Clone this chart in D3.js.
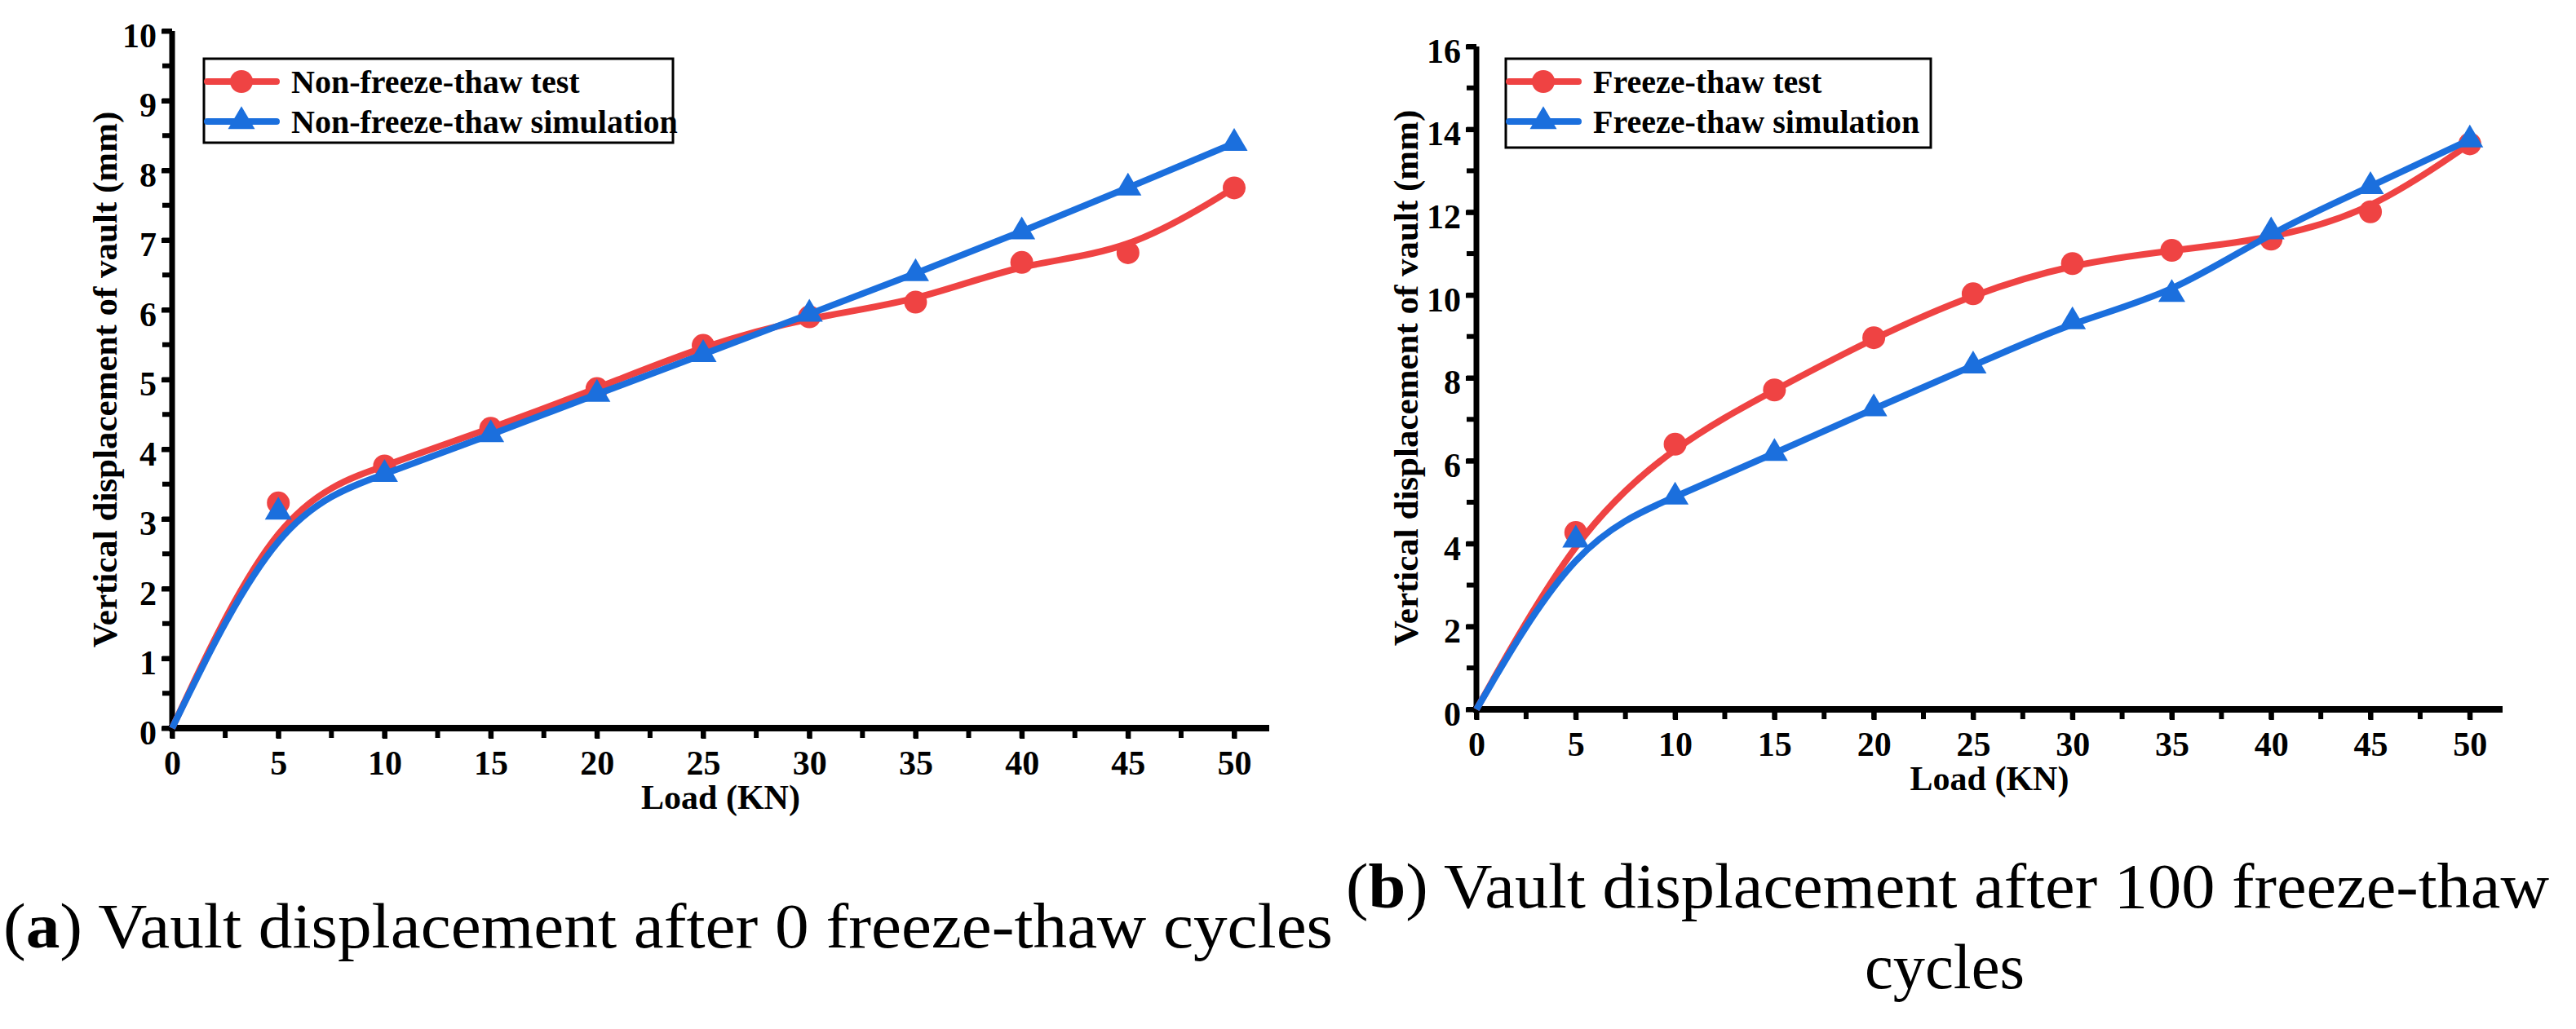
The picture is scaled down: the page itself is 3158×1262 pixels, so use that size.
<!DOCTYPE html>
<html>
<head>
<meta charset="utf-8">
<script src="https://cdn.jsdelivr.net/npm/d3@7"></script>
<style>
  body { margin: 0; background: #fff; }
  svg { display: block; }
  text { font-family: "Liberation Serif", "Times New Roman", serif; }
</style>
</head>
<body>
<div id="chart"></div>
<script>
// load steps (KN)
var loads = [0, 5, 10, 15, 20, 25, 30, 35, 40, 45, 50];

// (a) 0 freeze-thaw cycles
var testA = [0, 3.23, 3.76, 4.30, 4.87, 5.49, 5.90, 6.11, 6.68, 6.82, 7.75];
var simA = [0, 3.10, 3.64, 4.21, 4.79, 5.36, 5.94, 6.52, 7.12, 7.75, 8.39];

// (b) 100 freeze-thaw cycles
var testB = [0, 4.27, 6.40, 7.71, 8.97, 10.03, 10.76, 11.08, 11.35, 12.01, 13.65];
var simB = [0, 4.09, 5.13, 6.18, 7.26, 8.29, 9.36, 10.02, 11.53, 12.62, 13.75];

var xTicks = [0, 5, 10, 15, 20, 25, 30, 35, 40, 45, 50];
var yTicksA = [0, 1, 2, 3, 4, 5, 6, 7, 8, 9, 10];
var yTicksB = [0, 2, 4, 6, 8, 10, 12, 14, 16];

var legendA = ["Non-freeze-thaw test", "Non-freeze-thaw simulation"];
var legendB = ["Freeze-thaw test", "Freeze-thaw simulation"];

var red = "#ef4343",
    blue = "#1b6fdd";

var width = 3158,
    height = 1262;

var svg = d3.select("#chart")
    .append("svg")
    .attr("width", width)
    .attr("height", height);

function zip(ys) {
    return loads.map(function (l, i) { return { x: l, y: ys[i] }; });
}

function panel(opt) {
    var x = d3.scaleLinear().domain([0, 51.65]).range([opt.left, opt.right]);
    var y = d3.scaleLinear().domain([0, opt.yMax]).range([opt.bottom, opt.top]);
    var g = svg.append("g");

    // minor ticks
    var xMinor = d3.range(0, 51.65, 2.5);
    var yMinor = d3.range(0, opt.yMax + 0.001, opt.yStep / 2);

    g.selectAll(".xminor").data(xMinor).enter().append("line")
        .attr("x1", function (d) { return x(d); })
        .attr("x2", function (d) { return x(d); })
        .attr("y1", opt.bottom)
        .attr("y2", opt.bottom + 12)
        .attr("stroke", "#000").attr("stroke-width", 6);

    g.selectAll(".yminor").data(yMinor).enter().append("line")
        .attr("x1", opt.left)
        .attr("x2", opt.left - 12)
        .attr("y1", function (d) { return y(d); })
        .attr("y2", function (d) { return y(d); })
        .attr("stroke", "#000").attr("stroke-width", 6);

    // x axis
    var xAxis = d3.axisBottom(x).tickValues(xTicks).tickSize(13).tickPadding(14);
    var xg = g.append("g")
        .attr("transform", "translate(0," + opt.bottom + ")")
        .call(xAxis);
    xg.select(".domain").remove();
    xg.selectAll(".tick line").attr("stroke-width", 6);
    xg.selectAll(".tick text")
        .attr("font-size", 42).attr("font-weight", "bold")
        .attr("font-family", "Liberation Serif, Times New Roman, serif")
        .attr("fill", "#000");

    // y axis
    var yAxis = d3.axisLeft(y).tickValues(opt.yTicks).tickSize(13).tickPadding(6);
    var yg = g.append("g")
        .attr("transform", "translate(" + opt.left + ",0)")
        .call(yAxis);
    yg.select(".domain").remove();
    yg.selectAll(".tick line").attr("stroke-width", 6);
    yg.selectAll(".tick text")
        .attr("font-size", 42).attr("font-weight", "bold")
        .attr("font-family", "Liberation Serif, Times New Roman, serif")
        .attr("dy", "0.46em")
        .attr("fill", "#000");

    // axis lines
    g.append("line")
        .attr("x1", x(0) - 4).attr("x2", x(51.65))
        .attr("y1", opt.bottom).attr("y2", opt.bottom)
        .attr("stroke", "#000").attr("stroke-width", 8);
    g.append("line")
        .attr("x1", opt.left).attr("x2", opt.left)
        .attr("y1", opt.bottom + 4).attr("y2", y(opt.yMax))
        .attr("stroke", "#000").attr("stroke-width", 7);

    // titles
    g.append("text")
        .attr("x", (x(0) + x(51.65)) / 2)
        .attr("y", opt.bottom + 99)
        .attr("text-anchor", "middle")
        .attr("font-size", 42).attr("font-weight", "bold")
        .text("Load (KN)");

    g.append("text")
        .attr("transform", "translate(" + opt.yTitleX + "," + (opt.top + opt.bottom) / 2 + ") rotate(-90)")
        .attr("text-anchor", "middle")
        .attr("font-size", 43).attr("font-weight", "bold")
        .text("Vertical displacement of vault (mm)");

    var line = d3.line()
        .x(function (d) { return x(d.x); })
        .y(function (d) { return y(d.y); })
        .curve(d3.curveBasis);

    var tri = "M0,-18.7L16.5,9.3L-16.5,9.3Z";

    // test series (red, circles)
    var t = zip(opt.test);
    g.append("path").datum(t)
        .attr("d", line)
        .attr("fill", "none").attr("stroke", red)
        .attr("stroke-width", 8).attr("stroke-linejoin", "round");
    g.selectAll(".dot").data(t.slice(1)).enter().append("circle")
        .attr("cx", function (d) { return x(d.x); })
        .attr("cy", function (d) { return y(d.y); })
        .attr("r", 14)
        .attr("fill", red);

    // simulation series (blue, triangles)
    var s = zip(opt.sim);
    g.append("path").datum(s)
        .attr("d", line)
        .attr("fill", "none").attr("stroke", blue)
        .attr("stroke-width", 8).attr("stroke-linejoin", "round");
    g.selectAll(".tri").data(s.slice(1)).enter().append("path")
        .attr("d", tri)
        .attr("transform", function (d) { return "translate(" + x(d.x) + "," + y(d.y) + ")"; })
        .attr("fill", blue);

    // legend
    var lg = g.append("g");
    lg.append("rect")
        .attr("x", opt.legX).attr("y", 72)
        .attr("width", opt.legW).attr("height", opt.legH)
        .attr("fill", "#fff").attr("stroke", "#000").attr("stroke-width", 3);

    var rows = [
        { label: opt.legend[0], color: red, shape: "circle", cy: 100 },
        { label: opt.legend[1], color: blue, shape: "tri", cy: 149 }
    ];
    var item = lg.selectAll(".item").data(rows).enter().append("g")
        .attr("transform", function (d) { return "translate(" + opt.legX + "," + d.cy + ")"; });
    item.append("line")
        .attr("x1", 4).attr("x2", 89)
        .attr("stroke", function (d) { return d.color; })
        .attr("stroke-width", 8).attr("stroke-linecap", "round");
    item.filter(function (d) { return d.shape === "circle"; }).append("circle")
        .attr("cx", 46).attr("r", 14).attr("fill", red);
    item.filter(function (d) { return d.shape === "tri"; }).append("path")
        .attr("d", tri).attr("transform", "translate(46,0)").attr("fill", blue);
    item.append("text")
        .attr("x", 107).attr("y", 14)
        .attr("font-size", 40).attr("font-weight", "bold")
        .text(function (d) { return d.label; });
}

panel({
    left: 211, right: 1556, top: 38, bottom: 893,
    yMax: 10, yStep: 1, yTicks: yTicksA, yTitleX: 143,
    test: testA, sim: simA, legend: legendA,
    legX: 250, legW: 575, legH: 103
});

panel({
    left: 1810, right: 3068, top: 57, bottom: 870,
    yMax: 16, yStep: 2, yTicks: yTicksB, yTitleX: 1738,
    test: testB, sim: simB, legend: legendB,
    legX: 1846, legW: 521, legH: 109
});

// captions
var capA = svg.append("text")
    .attr("x", 4).attr("y", 1162)
    .attr("font-size", 78)
    .attr("textLength", 1630)
    .attr("lengthAdjust", "spacingAndGlyphs");
capA.append("tspan").text("(");
capA.append("tspan").attr("font-weight", "bold").text("a");
capA.append("tspan").text(") Vault displacement after 0 freeze-thaw cycles");

var capB = svg.append("text")
    .attr("x", 1650).attr("y", 1113)
    .attr("font-size", 78)
    .attr("textLength", 1475)
    .attr("lengthAdjust", "spacingAndGlyphs");
capB.append("tspan").text("(");
capB.append("tspan").attr("font-weight", "bold").text("b");
capB.append("tspan").text(") Vault displacement after 100 freeze-thaw");

svg.append("text")
    .attr("x", 2286).attr("y", 1212)
    .attr("font-size", 78)
    .attr("textLength", 196)
    .attr("lengthAdjust", "spacingAndGlyphs")
    .text("cycles");
</script>
</body>
</html>
